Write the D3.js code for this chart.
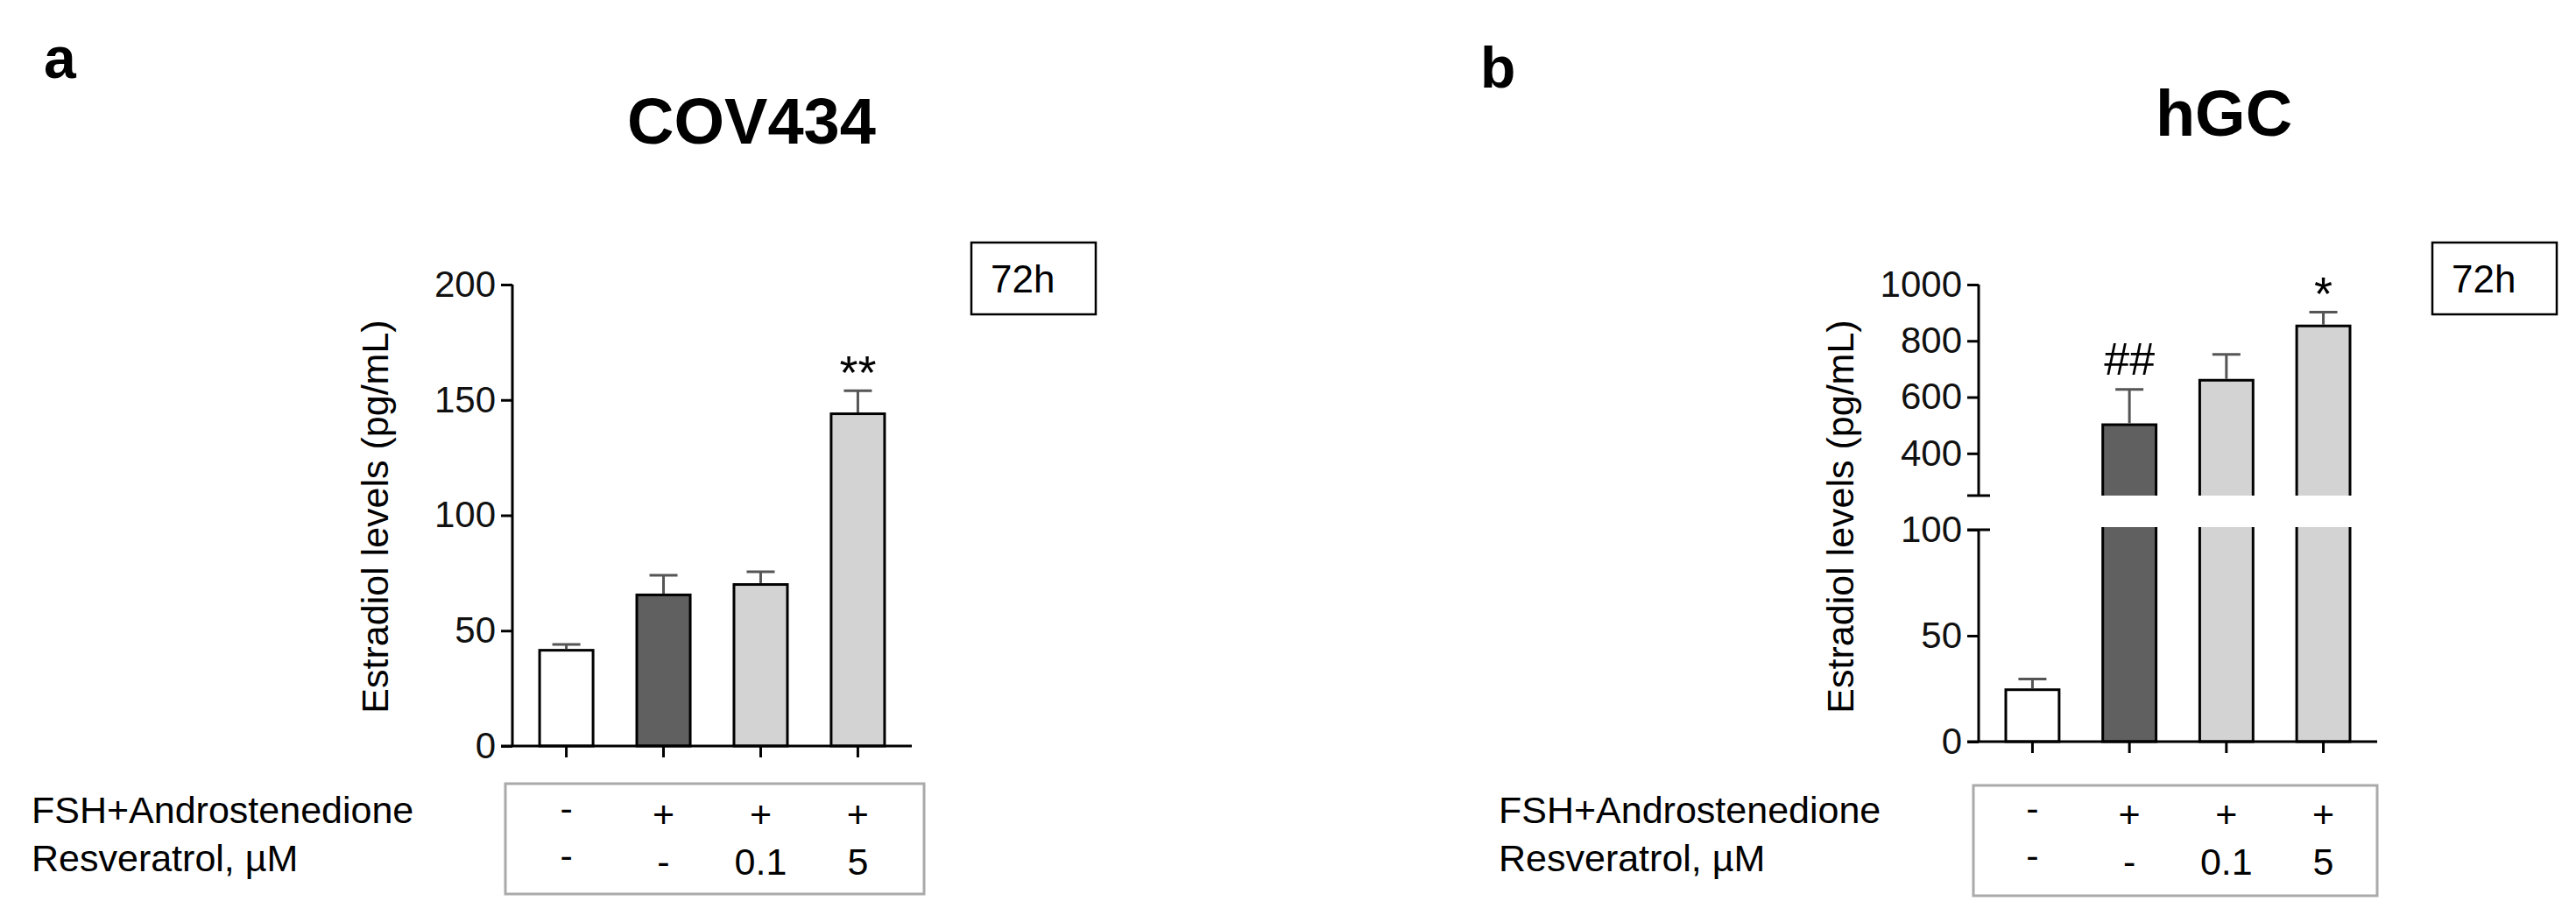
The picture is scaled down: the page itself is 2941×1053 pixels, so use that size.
<!DOCTYPE html>
<html>
<head>
<meta charset="utf-8">
<script src="https://cdn.jsdelivr.net/npm/d3@7"></script>
<style>
  body { margin: 0; background: #fff; }
  svg { display: block; font-family: "Liberation Sans", Arial, sans-serif; }
</style>
</head>
<body>
<div id="chart"></div>
<script>
// groups, same for both panels
var groups = ["ctrl", "FSH+A", "FSH+A+Res0.1", "FSH+A+Res5"];
var fshRow = ["-", "+", "+", "+"];
var resRow = ["-", "-", "0.1", "5"];

// panel a, COV434 (pg/mL)
var covMean = [41.5, 65.5, 70, 144];
var covErr = [2.5, 8.5, 5.5, 10];
var covSig = ["", "", "", "**"];
var covTicks = [0, 50, 100, 150, 200];

// panel b, hGC (pg/mL), broken y axis
var hgcMean = [24.5, 502, 660, 853];
var hgcErr = [5, 125, 92, 49];
var hgcSig = ["", "##", "", "*"];
var hgcTicksLow = [0, 50, 100];
var hgcTicksHigh = [400, 600, 800, 1000];

var fills = ["#ffffff", "#606060", "#d3d3d3", "#d3d3d3"];

var svg = d3.select("#chart").append("svg")
  .attr("width", 2941)
  .attr("height", 1053);

var defs = svg.append("defs");

function drawPanel(p) {
  var g = svg.append("g");

  var rows = groups.map(function(k, i) {
    return { key: k, mean: p.mean[i], err: p.err[i], sig: p.sig[i], fill: fills[i] };
  });

  var x = d3.scaleBand()
    .domain(groups)
    .range([p.left, p.right])
    .paddingInner(0.45)
    .paddingOuter(0.28);
  var cx = function(d) { return x(d.key) + x.bandwidth() / 2; };

  // one or two y segments
  p.segs.forEach(function(s, si) {
    var y = d3.scaleLinear().domain(s.domain).range(s.range);
    var clipId = "clip-" + p.id + "-" + si;
    defs.append("clipPath").attr("id", clipId)
      .append("rect")
      .attr("x", p.left - 20)
      .attr("y", s.range[1] - 3)
      .attr("width", p.right - p.left + 40)
      .attr("height", s.range[0] - s.range[1] + (si == 0 ? 6 : 3));

    var inSeg = rows.filter(function(d) { return d.mean > s.domain[0]; });
    var topHere = rows.filter(function(d) { return d.mean >= s.domain[0] && d.mean <= s.domain[1]; });

    g.append("g").attr("clip-path", "url(#" + clipId + ")")
      .selectAll("rect")
      .data(inSeg)
      .enter()
      .append("rect")
      .attr("x", function(d) { return x(d.key); })
      .attr("width", x.bandwidth())
      .attr("y", function(d) { return y(Math.min(d.mean, s.domain[1] + 20)); })
      .attr("height", function(d) { return y(s.domain[0]) - y(Math.min(d.mean, s.domain[1] + 20)) + (si == 0 ? 0 : 20); })
      .attr("fill", function(d) { return d.fill; })
      .attr("stroke", "#000")
      .attr("stroke-width", 3);

    // error bars, where the bar top lies in this segment
    g.selectAll(null).data(topHere).enter()
      .append("path")
      .attr("d", function(d) {
        var top = y(d.mean + d.err);
        return "M" + cx(d) + "," + (y(d.mean) - 1.5) + "V" + top + "M" + (cx(d) - 16) + "," + top + "H" + (cx(d) + 16);
      })
      .attr("fill", "none")
      .attr("stroke", "#555")
      .attr("stroke-width", 3);

    // significance marks
    g.selectAll(null).data(topHere.filter(function(d) { return d.sig != ""; })).enter()
      .append("text")
      .text(function(d) { return d.sig; })
      .attr("x", cx)
      .attr("y", function(d) { return y(d.mean + d.err) - (d.sig.indexOf("#") > -1 ? 17 : 2); })
      .attr("text-anchor", "middle")
      .style("font-size", function(d) { return d.sig.indexOf("#") > -1 ? "52px" : "54px"; });

    var ax = d3.axisLeft(y).tickValues(s.ticks).tickSize(13).tickPadding(6).tickFormat(d3.format("d"));
    var axg = g.append("g")
      .attr("transform", "translate(" + p.left + ",0)")
      .call(ax);
    axg.select(".domain").attr("d", "M0," + s.range[0] + "V" + s.range[1]);
    axg.selectAll("line, path").attr("stroke", "#000").attr("stroke-width", 3);
    axg.selectAll("text").style("font-size", "42px").attr("fill", "#111");
    // break caps cross the axis
    s.caps.forEach(function(v) {
      g.append("line")
        .attr("x1", p.left - 13).attr("x2", p.left + 13)
        .attr("y1", y(v)).attr("y2", y(v))
        .attr("stroke", "#000").attr("stroke-width", 3);
    });
  });

  // x axis with group ticks
  var y0 = p.segs[0].range[0];
  g.append("line")
    .attr("x1", p.left - 13).attr("x2", p.right)
    .attr("y1", y0).attr("y2", y0)
    .attr("stroke", "#000").attr("stroke-width", 3);
  g.selectAll(null).data(rows).enter()
    .append("line")
    .attr("x1", cx).attr("x2", cx)
    .attr("y1", y0).attr("y2", y0 + 13)
    .attr("stroke", "#000").attr("stroke-width", 3);

  // y label
  g.append("text")
    .text("Estradiol levels (pg/mL)")
    .attr("transform", "translate(" + p.ylabX + "," + p.ylabY + ") rotate(-90)")
    .attr("text-anchor", "middle")
    .style("font-size", "43px");

  // title and panel letter
  g.append("text").text(p.title)
    .attr("x", p.titleX).attr("y", p.titleY)
    .attr("text-anchor", "middle")
    .style("font-size", "74px").style("font-weight", "bold");
  g.append("text").text(p.letter)
    .attr("x", p.letterX).attr("y", p.letterY)
    .style("font-size", "66px").style("font-weight", "bold");

  // 72h box
  g.append("rect")
    .attr("x", p.boxX).attr("y", 277)
    .attr("width", 142).attr("height", 82)
    .attr("fill", "none").attr("stroke", "#000").attr("stroke-width", 2.5);
  g.append("text").text("72h")
    .attr("x", p.boxX + 22).attr("y", 334)
    .style("font-size", "44px");

  // treatment table
  g.append("rect")
    .attr("x", p.tabX).attr("y", p.tabY)
    .attr("width", p.tabW).attr("height", 126)
    .attr("fill", "none").attr("stroke", "#aaa").attr("stroke-width", 3);
  g.append("text").text("FSH+Androstenedione")
    .attr("x", p.labX).attr("y", 940).style("font-size", "43px");
  g.append("text").text("Resveratrol, \u00b5M")
    .attr("x", p.labX).attr("y", 995).style("font-size", "43px");
  [fshRow, resRow].forEach(function(row, r) {
    g.selectAll(null).data(row).enter()
      .append("text")
      .text(function(d) { return d; })
      .attr("x", function(d, i) { return x(groups[i]) + x.bandwidth() / 2; })
      .attr("y", function(d, i) { return (r == 0 ? 945 : 999) - (i == 0 ? 7 : 0); })
      .attr("text-anchor", "middle")
      .style("font-size", "43px");
  });
}

drawPanel({
  id: "a", left: 585, right: 1041,
  mean: covMean, err: covErr, sig: covSig,
  segs: [{ domain: [0, 200], range: [852, 325], ticks: covTicks, caps: [] }],
  ylabX: 443, ylabY: 590,
  title: "COV434", titleX: 858, titleY: 164,
  letter: "a", letterX: 50, letterY: 89,
  boxX: 1109,
  tabX: 577, tabY: 895, tabW: 478, labX: 36
});

drawPanel({
  id: "b", left: 2259, right: 2714,
  mean: hgcMean, err: hgcErr, sig: hgcSig,
  segs: [
    { domain: [0, 100], range: [847, 605], ticks: hgcTicksLow, caps: [100] },
    { domain: [250, 1000], range: [566, 325], ticks: hgcTicksHigh, caps: [250] }
  ],
  ylabX: 2116, ylabY: 590,
  title: "hGC", titleX: 2539, titleY: 155,
  letter: "b", letterX: 1690, letterY: 100,
  boxX: 2777,
  tabX: 2253, tabY: 897, tabW: 461, labX: 1711
});
</script>
</body>
</html>
